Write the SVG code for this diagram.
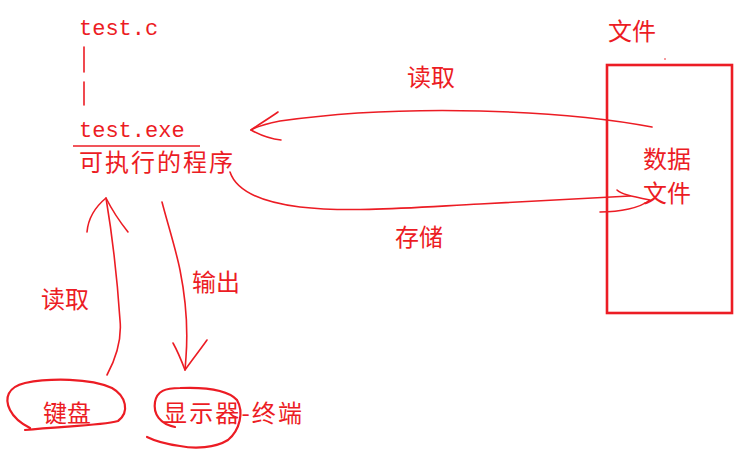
<svg xmlns="http://www.w3.org/2000/svg" width="746" height="453" viewBox="0 0 746 453">
<style>
.t{fill:#ec1c24;font-family:"Noto Sans CJK SC","Noto Sans",sans-serif;font-size:24px}
.m{fill:#ec1c24;font-family:"Liberation Mono","Noto Sans CJK SC",monospace;font-size:22px}
.s{fill:none;stroke:#ec1c24;stroke-width:1.6;stroke-linecap:round;stroke-linejoin:round}
.b{fill:none;stroke:#ec1c24;stroke-width:2.2;stroke-linecap:round}
</style>
<rect width="746" height="453" fill="#fff"/>
<g id="source">
<text class="m" x="79" y="35">test.c</text>
</g>
<g id="program">
<text class="m" x="79" y="137">test.exe</text>
<line x1="73" y1="146" x2="200" y2="146" stroke="#ec1c24" stroke-width="1.6"/>
<text class="t" x="79" y="171" textLength="154">可执行的程序</text>
</g>
<g id="file">
<text class="t" x="608" y="40">文件</text>
<rect x="607" y="65" width="125" height="248" fill="none" stroke="#ec1c24" stroke-width="2.6"/>
<circle cx="665" cy="59" r="0.8" fill="#ec1c24"/>
<text class="t" x="643" y="168">数据</text>
<text class="t" x="643" y="202">文件</text>
</g>
<g id="keyboard">
<path class="b" d="M25,430 C60,426 100,426 118,421 C130,412 126,396 112,388 C90,378 50,378 25,383 C8,387 4,398 10,410 C14,418 22,424 30,428"/>
<text class="t" x="43" y="422">键盘</text>
</g>
<g id="display">
<path class="b" d="M175,427 C160,424 153,414 155,402 C157,391 165,388 180,388 C205,387 228,390 237,400 C244,412 240,430 228,440 C215,448 195,449 180,446 C165,444 153,440 147,437"/>
<text class="t" x="163" y="422" textLength="139">显示器-终端</text>
</g>
<g id="connectors">
<line class="s" x1="84" y1="47" x2="84" y2="72"/>
<line class="s" x1="84" y1="82" x2="84" y2="105"/>
<path class="s" d="M652,127 C610,119 560,113 480,111 C400,109 330,114 280,121 C265,124 256,127 251,130"/>
<path class="s" d="M278,112 C268,119 258,125 251,130 C262,136 272,139 281,140"/>
<path class="s" d="M230,172 C236,190 260,202 300,207 C350,213 420,207 480,204 C540,201 590,198 630,196"/>
<path class="s" d="M617,190 C621,194 630,196 650,200 C640,208 620,212 600,212"/>
<path class="s" d="M107,375 C115,360 122,340 120,320 C118,290 113,240 106,198"/>
<path class="s" d="M87,232 C88,220 94,208 106,198 C112,210 120,222 128,232"/>
<path class="s" d="M162,202 C168,225 176,250 180,270 C186,300 188,330 186,357 L185,370"/>
<path class="s" d="M173,343 C178,352 182,362 185,370 C192,360 200,350 207,340"/>
</g>
<g id="labels">
<text class="t" x="407" y="86">读取</text>
<text class="t" x="395" y="246">存储</text>
<text class="t" x="41" y="308">读取</text>
<text class="t" x="192" y="291">输出</text>
</g>
</svg>
